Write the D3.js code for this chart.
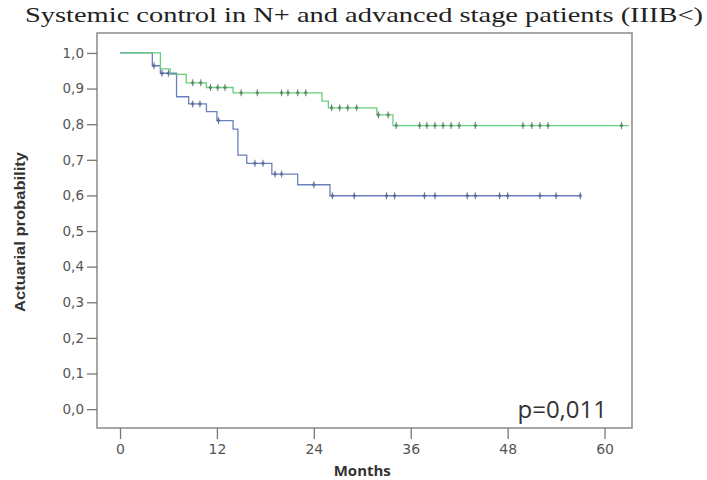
<!DOCTYPE html>
<html>
<head>
<meta charset="utf-8">
<script src="https://cdn.jsdelivr.net/npm/d3@7"></script>
<style>
  body { margin: 0; background: #fff; }
  svg { display: block; }
</style>
</head>
<body>
<div id="chart"></div>
<script>
// Kaplan-Meier steps: [month, probability after the drop]
const greenSteps = [[0, 1.0], [5, 0.955], [6.2, 0.94], [8.2, 0.916], [10.7, 0.903], [14, 0.888],
  [25, 0.865], [25.8, 0.846], [31.8, 0.826], [33.8, 0.796]];
const greenEnd = 63;
const greenCensored = [9, 10, 11.2, 12.1, 13, 15, 17, 20, 20.8, 22, 23, 26.2, 27.2, 28.2, 29.3,
  32, 33.2, 34.2, 37.1, 38, 39, 40, 41, 42, 44, 49.9, 51, 52, 53, 62.1];

const blueSteps = [[0, 1.0], [4, 0.964], [5, 0.943], [7, 0.877], [8.5, 0.857], [10.7, 0.835],
  [12, 0.81], [14, 0.786], [14.6, 0.713], [15.7, 0.69], [18.8, 0.66], [22, 0.63], [26, 0.599]];
const blueEnd = 57;
const blueCensored = [4.2, 5.2, 6, 9, 9.9, 12.2, 16.7, 17.7, 19.2, 20, 24, 26.3, 29, 33, 34,
  37.7, 39, 43, 44, 47, 48, 52, 54, 57];

const xTicks = [0, 12, 24, 36, 48, 60];
const yTicks = [0, 0.1, 0.2, 0.3, 0.4, 0.5, 0.6, 0.7, 0.8, 0.9, 1.0];

const width = 707, height = 480;
const frame = { left: 97, right: 632, top: 33, bottom: 428 };

const svg = d3.select('#chart').append('svg')
  .attr('width', width)
  .attr('height', height);

const x = d3.scaleLinear().domain([-2.85, 63.4]).range([frame.left, frame.right]);
const y = d3.scaleLinear().domain([-0.053, 1.056]).range([frame.bottom, frame.top]);

// Title
svg.append('text')
  .attr('x', 25)
  .attr('y', 22)
  .attr('textLength', 678)
  .attr('lengthAdjust', 'spacingAndGlyphs')
  .style('font-family', '"Liberation Serif", "Times New Roman", serif')
  .style('font-size', '22px')
  .style('fill', '#222')
  .text('Systemic control in N+ and advanced stage patients (IIIB<)');

// Frame
svg.append('rect')
  .attr('x', frame.left)
  .attr('y', frame.top)
  .attr('width', frame.right - frame.left)
  .attr('height', frame.bottom - frame.top)
  .attr('fill', 'none')
  .attr('stroke', '#8a8a8a')
  .attr('stroke-width', 1.5);

// Y axis
const yAxis = svg.append('g')
  .attr('transform', `translate(${frame.left},0)`)
  .call(d3.axisLeft(y).tickValues(yTicks).tickSize(10).tickPadding(3)
    .tickFormat(d => d3.format('.1f')(d).replace('.', ',')));
yAxis.select('.domain').remove();
yAxis.selectAll('line').attr('stroke', '#777').attr('stroke-width', 1.3);
yAxis.selectAll('text')
  .style('font-family', '"DejaVu Sans", Verdana, sans-serif')
  .style('font-size', '13.5px')
  .style('fill', '#555');

// X axis
const xAxis = svg.append('g')
  .attr('transform', `translate(0,${frame.bottom})`)
  .call(d3.axisBottom(x).tickValues(xTicks).tickSize(11).tickPadding(5));
xAxis.select('.domain').remove();
xAxis.selectAll('line').attr('stroke', '#777').attr('stroke-width', 1.3);
xAxis.selectAll('text')
  .style('font-family', '"DejaVu Sans", Verdana, sans-serif')
  .style('font-size', '14px')
  .style('fill', '#555');

// Axis titles
svg.append('text')
  .attr('transform', 'rotate(-90)')
  .attr('x', -232)
  .attr('y', 25)
  .attr('text-anchor', 'middle')
  .attr('textLength', 160)
  .attr('lengthAdjust', 'spacingAndGlyphs')
  .style('font-family', '"Liberation Sans", Arial, sans-serif')
  .style('font-size', '14px')
  .style('font-weight', 'bold')
  .style('fill', '#333')
  .text('Actuarial probability');

svg.append('text')
  .attr('x', x(30))
  .attr('y', 476)
  .attr('text-anchor', 'middle')
  .style('font-family', '"Open Sans", "DejaVu Sans", sans-serif')
  .style('font-size', '15px')
  .style('font-weight', 'bold')
  .style('fill', '#333')
  .text('Months');

// Step curves
function stepPath(steps, end) {
  const pts = [];
  steps.forEach((s, i) => {
    if (i > 0) pts.push([s[0], steps[i - 1][1]]);
    pts.push(s);
  });
  pts.push([end, steps[steps.length - 1][1]]);
  return d3.line().x(d => x(d[0])).y(d => y(d[1]))(pts);
}

function survivalAt(steps, t) {
  let p = steps[0][1];
  steps.forEach(s => { if (s[0] <= t) p = s[1]; });
  return p;
}

const series = [
  { steps: blueSteps, end: blueEnd, censored: blueCensored, color: '#6b7fc0', mark: '#5a6690' },
  { steps: greenSteps, end: greenEnd, censored: greenCensored, color: '#66d07e', mark: '#5b7d68' }
];

series.forEach(s => {
  svg.append('path')
    .attr('d', stepPath(s.steps, s.end))
    .attr('fill', 'none')
    .attr('stroke', s.color)
    .attr('stroke-width', 1.3);

  const marks = svg.append('g');
  s.censored.forEach(t => {
    const cx = x(t), cy = y(survivalAt(s.steps, t));
    marks.append('line')
      .attr('x1', cx).attr('x2', cx)
      .attr('y1', cy - 3.5).attr('y2', cy + 3.5)
      .attr('stroke', s.mark)
      .attr('stroke-width', 1.1)
      .attr('opacity', 0.85);
    marks.append('circle')
      .attr('cx', cx).attr('cy', cy)
      .attr('r', 1.8)
      .attr('fill', s.mark)
      .attr('opacity', 0.7);
  });
});

// p-value
svg.append('text')
  .attr('x', 607)
  .attr('y', 418)
  .attr('text-anchor', 'end')
  .style('font-family', '"Open Sans", "DejaVu Sans", sans-serif')
  .style('font-size', '24px')
  .style('fill', '#333')
  .text('p=0,011');
</script>
</body>
</html>
